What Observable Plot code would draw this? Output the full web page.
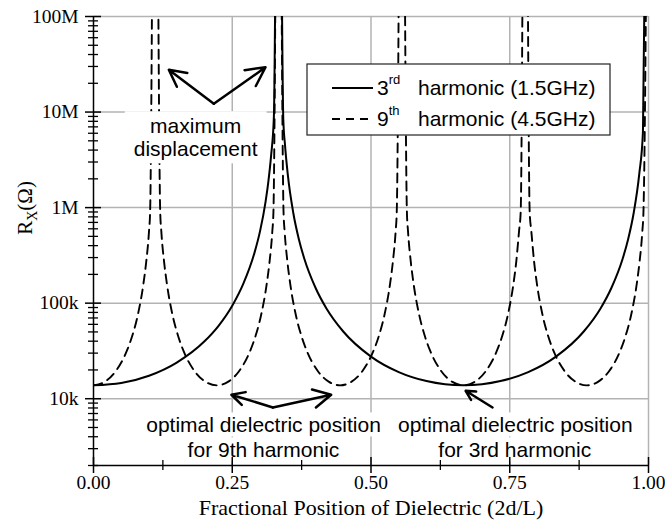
<!DOCTYPE html>
<html><head><meta charset="utf-8">
<script src="https://cdn.jsdelivr.net/npm/d3@7"></script>
<script src="https://cdn.jsdelivr.net/npm/@observablehq/plot@0.6"></script>
<style>html,body{margin:0;padding:0;background:#fff;}</style>
</head><body>
<div id="chart"></div>
<script>
// ---- data (R in ohms; 1e12 marks an off-scale peak) ----
const solidX = [0, 0.05, 0.10, 0.15, 0.20, 0.225, 0.25, 0.27, 0.29, 0.30, 0.31, 0.315, 0.32, 0.325, 0.3333,
  0.342, 0.345, 0.35, 0.36, 0.37, 0.38, 0.40, 0.42, 0.45, 0.50, 0.55, 0.60, 0.6667,
  0.7333, 0.7833, 0.8333, 0.8833, 0.9133, 0.9333, 0.9533, 0.9633, 0.9733, 0.9833, 0.99, 1.0];
const solidR = [13800, 14600, 17400, 23900, 39900, 57600, 94000, 160000, 336000, 564000, 1150000, 1860000, 3500000, 8900000, 1e12,
  8300000, 4560000, 2240000, 879000, 467000, 290000, 145000, 87500, 50500, 27600, 19000, 15300, 13800,
  15300, 19000, 27600, 50500, 87500, 145000, 290000, 467000, 879000, 2240000, 6200000, 1e12];

const dashedX = [
  0, 0.02, 0.04, 0.06, 0.07, 0.08, 0.09, 0.095, 0.10, 0.102, 0.1111,
  0.1202, 0.1222, 0.1272, 0.1322, 0.1422, 0.1522, 0.1622, 0.1822, 0.2022, 0.2222,
  0.2422, 0.2622, 0.2822, 0.2922, 0.3022, 0.3122, 0.3172, 0.3222, 0.3242, 0.3333,
  0.3424, 0.3444, 0.3494, 0.3544, 0.3644, 0.3744, 0.3844, 0.4044, 0.4244, 0.4444,
  0.4644, 0.4844, 0.5044, 0.5144, 0.5244, 0.5344, 0.5394, 0.5444, 0.5464, 0.5556,
  0.5647, 0.5667, 0.5717, 0.5767, 0.5867, 0.5967, 0.6067, 0.6267, 0.6467, 0.6667,
  0.6867, 0.7067, 0.7267, 0.7367, 0.7467, 0.7567, 0.7617, 0.7667, 0.7697, 0.7778,
  0.7859, 0.7889, 0.7939, 0.7989, 0.8089, 0.8189, 0.8289, 0.8489, 0.8689, 0.8889,
  0.9089, 0.9289, 0.9489, 0.9589, 0.9689, 0.9789, 0.9839, 0.9889, 0.9909, 1.0];
const dashedR = [
  13800, 15000, 19400, 31600, 45800, 76000, 160000, 271000, 564000, 900000, 1e12,
  900000, 564000, 271000, 160000, 76000, 45800, 31600, 19400, 15000, 13800,
  15000, 19400, 31600, 45800, 76000, 160000, 271000, 564000, 900000, 1e12,
  900000, 564000, 271000, 160000, 76000, 45800, 31600, 19400, 15000, 13800,
  15000, 19400, 31600, 45800, 76000, 160000, 271000, 564000, 900000, 1e12,
  900000, 564000, 271000, 160000, 76000, 45800, 31600, 19400, 15000, 13800,
  15000, 19400, 31600, 45800, 76000, 160000, 271000, 564000, 900000, 1e12,
  900000, 564000, 271000, 160000, 76000, 45800, 31600, 19400, 15000, 13800,
  15000, 19400, 31600, 45800, 76000, 160000, 271000, 564000, 900000, 1e12];

const yTicks = [1e4, 1e5, 1e6, 1e7, 1e8];
const yTickLabels = ["10k", "100k", "1M", "10M", "100M"];
const minorMultipliers = [2, 3, 4, 5, 6, 7, 8, 9];
const minorDecades = [1e3, 1e4, 1e5, 1e6, 1e7];
const xTicks = [0, 0.25, 0.5, 0.75, 1];
const xTickLabels = ["0.00", "0.25", "0.50", "0.75", "1.00"];
const xMinor = [0.125, 0.375, 0.625, 0.875];
const gridX = [0.25, 0.5, 0.75, 1];
const gridY = [1e4, 1e5, 1e6, 1e7, 1e8];

const xTitle = "Fractional Position of Dielectric (2d/L)";
const legendNums = ["3", "9"];
const legendSups = ["rd", "th"];
const legendNames = ["harmonic (1.5GHz)", "harmonic (4.5GHz)"];

const noteText = ["maximum\ndisplacement", "optimal dielectric position", "for 9th harmonic", "optimal dielectric position", "for 3rd harmonic"];
const noteX = [0.184, 0.3063, 0.3063, 0.760, 0.759];
const noteY = [5.43e6, 5370, 2940, 5370, 2940];

const arrowX1 = [0.2168, 0.2168, 0.3232, 0.3232, 0.719];
const arrowY1 = [12.2e6, 12.2e6, 8100, 8100, 8100];
const arrowX2 = [0.1357, 0.3099, 0.2485, 0.4283, 0.6705];
const arrowY2 = [27.7e6, 29.4e6, 11000, 11000, 12100];

// ---- tables built from the arrays ----
const solid = solidX.map((x, i) => ({x, r: solidR[i]}));
const dashed = dashedX.map((x, i) => ({x, r: dashedR[i]}));
const yMinor = minorDecades.flatMap(d => minorMultipliers.map(m => m * d));
const notes = noteText.map((t, i) => ({text: t, x: noteX[i], y: noteY[i]}));
const arrows = arrowX1.map((x1, i) => ({x1, y1: arrowY1[i], x2: arrowX2[i], y2: arrowY2[i]}));

const sans = "'Liberation Sans', Arial, Helvetica, sans-serif";
const serif = "'Liberation Serif', 'Times New Roman', serif";

const plot = Plot.plot({
  width: 665, height: 527,
  marginLeft: 93, marginRight: 17, marginTop: 16, marginBottom: 62,
  x: {domain: [0, 1]},
  y: {type: "log", domain: [2000, 1e8]},
  style: {fontFamily: serif, fontSize: "19.5px", background: "white", color: "black"},
  marks: [
    Plot.ruleY(gridY, {stroke: "#b3b3b3", strokeWidth: 1.5}),
    Plot.ruleX(gridX, {stroke: "#b3b3b3", strokeWidth: 1.5}),
    Plot.line(solid, {x: "x", y: "r", stroke: "black", strokeWidth: 2, curve: "monotone-x", clip: true}),
    Plot.line(dashed, {x: "x", y: "r", stroke: "black", strokeWidth: 1.9, strokeDasharray: "9,6", curve: "monotone-x", clip: true}),
    Plot.text(notes, {x: "x", y: "y", text: "text", fontFamily: sans, fontSize: 21, lineHeight: 1.1, fill: "black"}),
    Plot.arrow(arrows, {x1: "x1", y1: "y1", x2: "x2", y2: "y2", stroke: "black", strokeWidth: 2.5, headLength: 13, headAngle: 55}),
    Plot.ruleX([0], {stroke: "black", strokeWidth: 1.5}),
    Plot.ruleY([2000], {stroke: "black", strokeWidth: 1.5}),
    Plot.tickY(yTicks, {y: d => d, insetLeft: -8, insetRight: 547, stroke: "black", strokeWidth: 1.5}),
    Plot.tickY(yMinor, {y: d => d, insetLeft: -5, insetRight: 550, stroke: "black", strokeWidth: 1.3}),
    Plot.tickX(xTicks, {x: d => d, insetTop: 441, insetBottom: -8, stroke: "black", strokeWidth: 1.5}),
    Plot.tickX(xMinor, {x: d => d, insetTop: 444, insetBottom: -5, stroke: "black", strokeWidth: 1.3}),
    Plot.axisY(yTicks, {tickSize: 0, tickPadding: 15, tickFormat: d => yTickLabels[yTicks.indexOf(d)], label: null}),
    Plot.axisX(xTicks, {tickSize: 0, tickPadding: 10, tickFormat: d => xTickLabels[xTicks.indexOf(d)], label: null}),
    Plot.text([xTitle], {text: d => d, frameAnchor: "bottom", dy: 42, lineAnchor: "middle", fontSize: 22, fill: "black"})
  ]
});

document.getElementById("chart").append(plot);
const svg = d3.select(plot);

// white boxes behind annotation texts
svg.selectAll('g[aria-label="text"] text').each(function() {
  if (this.textContent === xTitle) return;
  const multi = this.querySelectorAll("tspan").length > 1;
  const padX = multi ? 9 : 5, padY = multi ? 3 : 0.5;
  const b = this.getBBox();
  const r = document.createElementNS("http://www.w3.org/2000/svg", "rect");
  r.setAttribute("x", b.x - padX);
  r.setAttribute("y", b.y - padY);
  r.setAttribute("width", b.width + 2 * padX);
  r.setAttribute("height", b.height + 2 * padY);
  r.setAttribute("fill", "white");
  r.setAttribute("stroke", "none");
  const tr = this.getAttribute("transform");
  if (tr) r.setAttribute("transform", tr);
  this.parentNode.insertBefore(r, this);
});

// y-axis title with subscript
const yl = svg.append("text")
  .attr("transform", "translate(32,208) rotate(-90)")
  .attr("text-anchor", "middle")
  .attr("font-family", serif).attr("font-size", 21).attr("fill", "black");
yl.append("tspan").text("R");
yl.append("tspan").text("X").attr("font-size", 14).attr("dy", 5);
yl.append("tspan").text("(Ω)").attr("dy", -5);

// legend
const lg = svg.append("g").attr("text-anchor", "start");
lg.append("rect").attr("x", 307).attr("y", 64).attr("width", 303).attr("height", 71)
  .attr("fill", "white").attr("stroke", "#222").attr("stroke-width", 1.2);
const rowsY = [88, 119];
rowsY.forEach((yy, i) => {
  const ln = lg.append("line").attr("x1", 332).attr("x2", 373).attr("y1", yy).attr("y2", yy)
    .attr("stroke", "black").attr("stroke-width", i === 0 ? 2 : 1.9);
  if (i === 1) ln.attr("stroke-dasharray", "8,6");
  const t = lg.append("text").attr("x", 377).attr("y", yy + 7).attr("text-anchor", "start")
    .attr("font-family", sans).attr("font-size", 21).attr("fill", "black");
  t.append("tspan").text(legendNums[i]);
  t.append("tspan").text(legendSups[i]).attr("font-size", 13).attr("dy", -11);
  lg.append("text").attr("x", 418).attr("y", yy + 7).attr("text-anchor", "start")
    .attr("font-family", sans).attr("font-size", 21).attr("fill", "black")
    .text(legendNames[i]);
});
</script>
</body></html>
